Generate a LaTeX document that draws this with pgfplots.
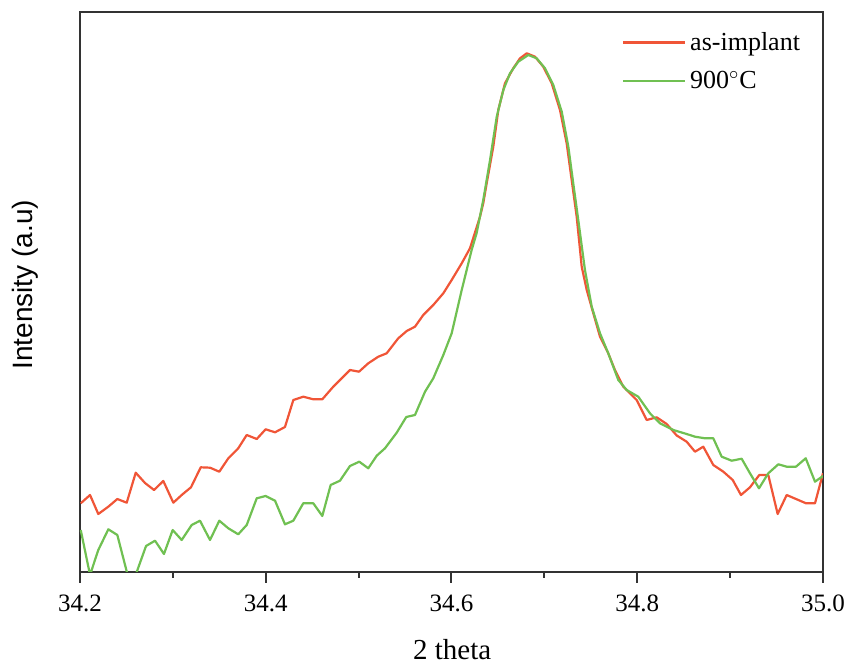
\documentclass[border=0pt]{standalone}
\usepackage{pgfplots}
\pgfplotsset{compat=1.18}
\usepackage{fontspec}
\setmainfont{Liberation Serif}
\newfontfamily\arialfont{Liberation Sans}
\definecolor{redc}{RGB}{240,85,55}
\definecolor{greenc}{RGB}{112,192,82}
\begin{document}
\begin{tikzpicture}
\begin{axis}[
  at={(0,0)}, anchor=south west,
  width=371.5pt, height=280pt, scale only axis,
  xmin=34.2, xmax=35.0, ymin=0, ymax=560,
  xtick={34.2,34.4,34.6,34.8,35.0},
  minor xtick={34.3,34.5,34.7,34.9},
  ytick=\empty,
  xtick pos=bottom, tick align=outside,
  major tick length=5.5pt, minor tick length=3pt,
  tick style={line width=1pt, color=black!80},
  axis line style={line width=1.2pt, color=black!80},
  /pgf/number format/assume math mode=true,
  xticklabel style={font=\fontsize{12.5}{14}\selectfont, yshift=-2.5pt,
    /pgf/number format/fixed, /pgf/number format/fixed zerofill,
    /pgf/number format/precision=1},
  xlabel={2 theta},
  xlabel style={font=\fontsize{14.5}{17}\selectfont, at={(rel axis cs:0.501,0)}, anchor=base, yshift=-44pt},
  ylabel={Intensity (a.u)},
  ylabel style={font=\arialfont\fontsize{14}{17}\selectfont, at={(rel axis cs:0,0.513)}, anchor=center, yshift=27.5pt},
  legend style={draw=none, fill=none, at={(rel axis cs:0.729,0.972)}, anchor=north west,
    font=\fontsize{13}{15}\selectfont, row sep=5pt, inner sep=0pt},
  legend cell align=left,
  legend image code/.code={\draw[#1] (0pt,0pt) -- (31pt,0pt);},
  every axis plot/.append style={line width=1.1pt, line join=round},
]
\addplot[color=redc] coordinates {
(34.2008,68.7) (34.2108,77) (34.2197,58) (34.2305,65.3) (34.2402,73) (34.2503,69.3)
(34.2600,99.3) (34.2700,89) (34.2797,82) (34.2897,91) (34.3005,69.3) (34.3095,77)
(34.3195,84.7) (34.3300,104.7) (34.3400,104.3) (34.3500,100.3) (34.3597,113.7)
(34.3704,123.7) (34.3795,137) (34.3903,133) (34.3999,142.7) (34.4100,139.7)
(34.4207,145) (34.4297,172) (34.4404,175.3) (34.4512,172.7) (34.4609,172.7)
(34.4727,185.3) (34.4818,193.7) (34.4907,202) (34.5004,200.3) (34.5104,208.7)
(34.5212,215.3) (34.5302,218.7) (34.5427,233.7) (34.5518,241) (34.5607,245.3)
(34.5696,257) (34.5804,267) (34.5912,278.7) (34.6002,292) (34.6110,308.7)
(34.6199,323.7) (34.6307,355.3) (34.6342,368.7) (34.6379,388.7) (34.6450,425.3)
(34.6504,462) (34.6576,488.7) (34.6665,503.7) (34.6738,513.7) (34.6810,518.7)
(34.6899,515.3) (34.6988,505.3) (34.7079,488.7) (34.7168,462) (34.7240,428.7)
(34.7294,392) (34.7348,355.3) (34.7402,305.3) (34.7456,282) (34.7527,258.7)
(34.7599,235.3) (34.7688,218.7) (34.7760,202) (34.7850,185.3) (34.7994,172)
(34.8102,152) (34.8209,154.7) (34.8317,148) (34.8425,136.5) (34.8532,130.3)
(34.8622,120.3) (34.8711,125.3) (34.8819,107) (34.8927,100.3) (34.9028,92)
(34.9117,77) (34.9214,84.7) (34.9314,97) (34.9411,97) (34.9512,58) (34.9609,77)
(34.9717,72.7) (34.9817,68.7) (34.9914,68.7) (35.0000,98.7)
};
\addlegendentry{as-implant}
\addplot[color=greenc] coordinates {
(34.2008,42) (34.2108,-3) (34.2197,22) (34.2305,42.7) (34.2402,37) (34.2549,-16)
(34.2711,26) (34.2808,31.3) (34.2904,18) (34.2998,42) (34.3095,32) (34.3203,47)
(34.3292,51.3) (34.3400,32) (34.3500,51.3) (34.3597,43.7) (34.3704,37.7)
(34.3795,47) (34.3903,73.7) (34.3999,76) (34.4100,71.3) (34.4207,47.7)
(34.4297,51.3) (34.4404,68.7) (34.4512,68.7) (34.4609,56) (34.4699,87)
(34.4799,91.3) (34.4907,106) (34.5007,110.3) (34.5104,103.7) (34.5195,116.3)
(34.5284,123.7) (34.5410,139.3) (34.5513,155) (34.5607,157) (34.5715,180.3)
(34.5804,193.7) (34.5912,217) (34.6002,238.7) (34.6110,282) (34.6217,322)
(34.6271,339) (34.6342,372) (34.6415,412) (34.6487,455.3) (34.6558,482)
(34.6630,498.7) (34.6719,510.3) (34.6827,517) (34.6917,513.7) (34.7007,503.7)
(34.7096,487) (34.7187,460.3) (34.7258,425.3) (34.7311,388.7) (34.7365,352)
(34.7437,302) (34.7510,265.3) (34.7599,238.7) (34.7688,218.7) (34.7796,192)
(34.7886,182) (34.8011,175.3) (34.8137,158.7) (34.8245,148.7) (34.8388,142)
(34.8532,138) (34.8622,135.3) (34.8729,133.7) (34.8819,133.7) (34.8909,115.3)
(34.9017,111.3) (34.9124,113.3) (34.9214,98.7) (34.9311,83.7) (34.9411,98.7)
(34.9519,107.7) (34.9609,105.3) (34.9709,105.3) (34.9814,113.7) (34.9914,90.3)
(35.0000,96)
};
\addlegendentry{900$^{\circ}$C}
\end{axis}
\pgfresetboundingbox
\path[use as bounding box] (-40pt,-46pt) rectangle (383.5pt,286pt);
\end{tikzpicture}
\end{document}
